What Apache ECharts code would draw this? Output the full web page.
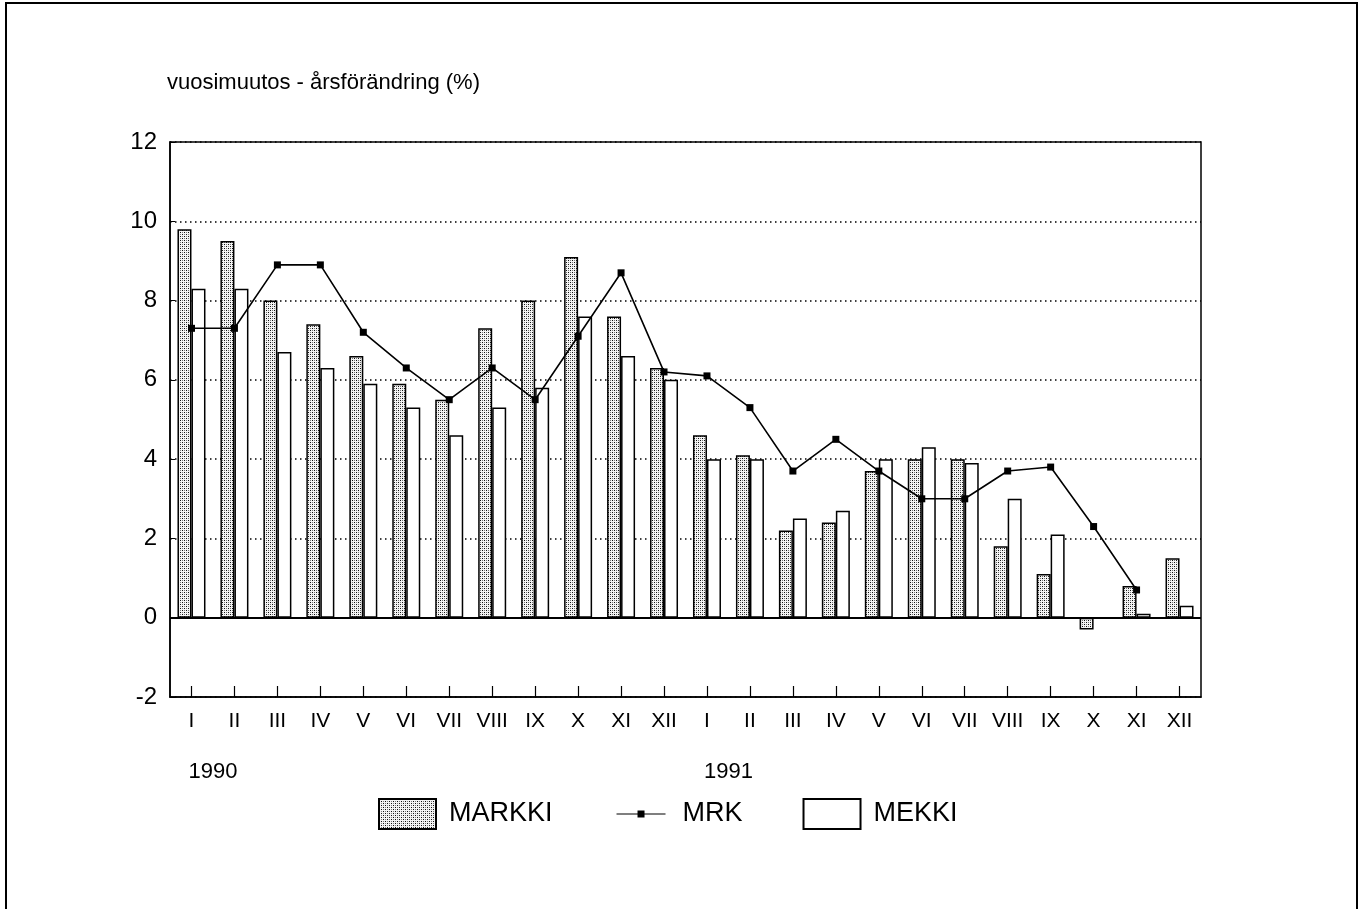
<!DOCTYPE html>
<html>
<head>
<meta charset="utf-8">
<script src="https://cdn.jsdelivr.net/npm/echarts@6/dist/echarts.min.js"></script>
<style>
html,body{margin:0;padding:0;background:#fff;}
#main{width:1362px;height:909px;}
</style>
</head>
<body>
<div id="main"></div>
<script>
// ---- data ----
const months = ['I','II','III','IV','V','VI','VII','VIII','IX','X','XI','XII','I','II','III','IV','V','VI','VII','VIII','IX','X','XI','XII'];
const years = ['1990', '1991'];
const yearStartIndex = [0, 12];
const markki = [9.8, 9.5, 8.0, 7.4, 6.6, 5.9, 5.5, 7.3, 8.0, 9.1, 7.6, 6.3, 4.6, 4.1, 2.2, 2.4, 3.7, 4.0, 4.0, 1.8, 1.1, -0.3, 0.8, 1.5];
const mrk = [7.3, 7.3, 8.9, 8.9, 7.2, 6.3, 5.5, 6.3, 5.5, 7.1, 8.7, 6.2, 6.1, 5.3, 3.7, 4.5, 3.7, 3.0, 3.0, 3.7, 3.8, 2.3, 0.7, null];
const mekki = [8.3, 8.3, 6.7, 6.3, 5.9, 5.3, 4.6, 5.3, 5.8, 7.6, 6.6, 6.0, 4.0, 4.0, 2.5, 2.7, 4.0, 4.3, 3.9, 3.0, 2.1, 0.0, 0.1, 0.3];
const titleText = 'vuosimuutos - årsförändring (%)';

// stipple pattern for MARKKI
const pc = document.createElement('canvas');
pc.width = 4; pc.height = 4;
const g = pc.getContext('2d');
g.fillStyle = '#f4f4f4'; g.fillRect(0,0,4,4);
g.fillStyle = '#111'; g.fillRect(0,0,1,1); g.fillRect(2,2,1,1);
g.fillStyle = '#777'; g.fillRect(2,0,1,1); g.fillRect(0,2,1,1);

const FONT = '"Liberation Sans", Arial, sans-serif';
const chart = echarts.init(document.getElementById('main'), null, {renderer:'canvas'});

// legend icon for the line: thin line with small square, spanning a 57x30 box
const lineIcon = 'path://M0,0L0.01,0L0,0Z M57,30L56.99,30L57,30Z M4,14.5H53V15.5H4Z M25,11.5H32V18.5H25Z';

const option = {
  animation: false,
  backgroundColor: '#fff',
  textStyle: {fontFamily: FONT, color: '#000'},
  grid: {left: 170, top: 142, width: 1031, height: 555, show: true, borderColor: '#000', borderWidth: 1.5, containLabel: false},
  legend: {
    left: 373, top: 793, itemWidth: 57, itemHeight: 30, itemGap: 60,
    textStyle: {fontSize: 27, fontFamily: FONT, color: '#000', padding: [0,0,0,8]},
    data: [
      {name: 'MARKKI', icon: 'rect'},
      {name: 'MRK', icon: lineIcon, itemStyle: {color: '#000', borderWidth: 0}},
      {name: 'MEKKI', icon: 'rect'}
    ]
  },
  xAxis: {
    type: 'category', data: months, boundaryGap: true,
    axisLine: {onZero: false, lineStyle: {color: '#000', width: 1.5}},
    axisTick: {show: true, inside: true, alignWithLabel: true, length: 11, lineStyle: {color: '#000', width: 1.2}},
    axisLabel: {fontSize: 21, color: '#000', margin: 14, fontFamily: FONT, interval: 0},
    splitLine: {show: false},
    z: 10
  },
  yAxis: {
    type: 'value', min: -2, max: 12, interval: 2,
    axisLine: {show: true, lineStyle: {color: '#000', width: 1.5}},
    axisTick: {show: true, inside: true, length: 5, lineStyle: {color: '#000'}},
    axisLabel: {fontSize: 24, color: '#000', margin: 13, fontFamily: FONT},
    splitLine: {show: true, lineStyle: {color: '#000', type: [1.5, 3.5], width: 1.5}}
  },
  series: [
    {
      name: 'MARKKI', type: 'bar', data: markki, barWidth: 14, barGap: '0%',
      itemStyle: {color: {image: pc, repeat: 'repeat'}, borderColor: '#000', borderWidth: 1.5},
      markLine: {silent: true, symbol: 'none', label: {show: false},
        lineStyle: {color: '#000', type: 'solid', width: 1.8}, data: [{yAxis: 0}]}
    },
    {
      name: 'MEKKI', type: 'bar', data: mekki, barWidth: 14, barGap: '0%',
      itemStyle: {color: '#fff', borderColor: '#000', borderWidth: 1.5}
    },
    {
      name: 'MRK', type: 'line', data: mrk, symbol: 'rect', symbolSize: 7,
      connectNulls: false, z: 5,
      lineStyle: {color: '#000', width: 1.6}, itemStyle: {color: '#000'}
    }
  ],
  graphic: [
    {type: 'rect', shape: {x: 6, y: 3, width: 1351, height: 1000}, style: {fill: 'none', stroke: '#000', lineWidth: 2}, silent: true},
    {type: 'text', left: 167, top: 72, style: {text: titleText, font: '22px ' + FONT, fill: '#000'}}
  ]
};
chart.setOption(option);

// year labels placed under their first month
const yearGraphics = years.map((y, i) => {
  const px = chart.convertToPixel({xAxisIndex: 0}, yearStartIndex[i]);
  return {type: 'text', id: 'year' + i, x: px - 3, y: 761, style: {text: y, font: '22px ' + FONT, fill: '#000'}};
});
chart.setOption({graphic: yearGraphics});
</script>
</body>
</html>
